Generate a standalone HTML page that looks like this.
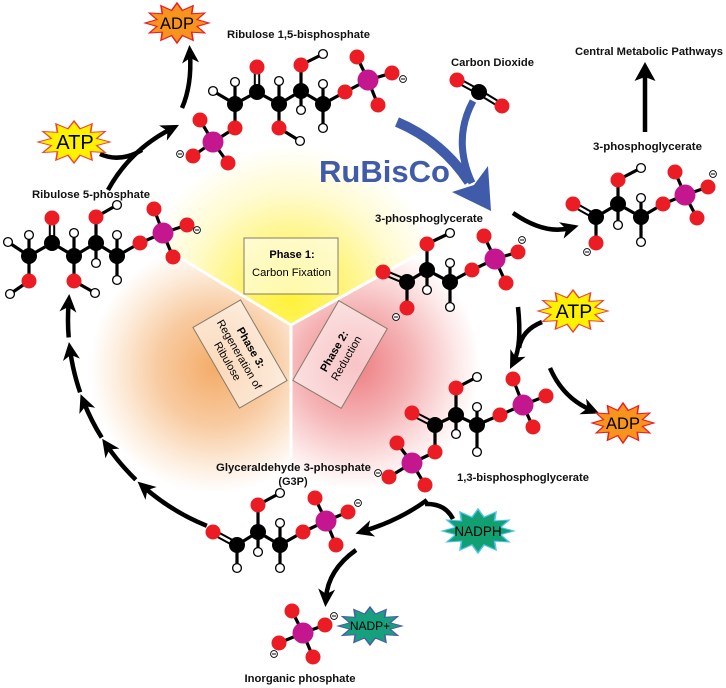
<!DOCTYPE html>
<html><head><meta charset="utf-8"><style>
html,body{margin:0;padding:0;background:#fff;overflow:hidden;width:726px;height:688px;}
svg{display:block;}
text{font-family:"Liberation Sans",Arial,sans-serif;}
.lb{font-weight:bold;font-size:11px;fill:#111;}
</style></head><body>
<svg width="726" height="688" viewBox="0 0 726 688" xmlns="http://www.w3.org/2000/svg" style="overflow:hidden">
<defs>
<radialGradient id="gy" gradientUnits="userSpaceOnUse" cx="291" cy="300" r="155">
<stop offset="0" stop-color="#fff23a"/><stop offset="0.35" stop-color="#fff47a"/><stop offset="0.7" stop-color="#fffbd0"/><stop offset="1" stop-color="#ffffff"/></radialGradient>
<radialGradient id="go" gradientUnits="userSpaceOnUse" cx="215" cy="368" r="125">
<stop offset="0" stop-color="#f4ac68"/><stop offset="0.45" stop-color="#f8caa0"/><stop offset="0.8" stop-color="#fdeedf"/><stop offset="1" stop-color="#ffffff"/></radialGradient>
<radialGradient id="gr" gradientUnits="userSpaceOnUse" cx="355" cy="365" r="125">
<stop offset="0" stop-color="#ee7d82"/><stop offset="0.45" stop-color="#f5b3b5"/><stop offset="0.8" stop-color="#fde6e6"/><stop offset="1" stop-color="#ffffff"/></radialGradient>
<marker id="ah" markerUnits="userSpaceOnUse" markerWidth="30" markerHeight="30" viewBox="-15 -15 30 30" refX="0" refY="0" orient="auto"><path d="M9,0 L-9,-8.5 L-4,0 L-9,8.5 Z" fill="#000"/></marker>
<polygon id="star" points="0,-1 0.168,-0.628 0.5,-0.866 0.46,-0.46 0.866,-0.5 0.628,-0.168 1,0 0.628,0.168 0.866,0.5 0.46,0.46 0.5,0.866 0.168,0.628 0,1 -0.168,0.628 -0.5,0.866 -0.46,0.46 -0.866,0.5 -0.628,0.168 -1,0 -0.628,-0.168 -0.866,-0.5 -0.46,-0.46 -0.5,-0.866 -0.168,-0.628"/>
</defs>

<!-- background sectors -->
<polygon points="291,325 0,148.5 0,0 726,0 726,82.2" fill="url(#gy)"/>
<polygon points="291,325 0,148.5 0,688 291,688" fill="url(#go)"/>
<polygon points="291,325 291,688 726,688 726,82.2" fill="url(#gr)"/>
<g stroke="#fff" stroke-width="3">
<line x1="291" y1="325" x2="1" y2="149"/>
<line x1="291" y1="325" x2="725" y2="83"/>
<line x1="291" y1="325" x2="291" y2="687"/>
</g>

<!-- phase boxes -->
<rect x="244" y="238" width="94" height="56" fill="rgba(255,255,255,0.55)" stroke="#857a68" stroke-width="1"/>
<text x="292" y="258" text-anchor="middle" style="font-weight:bold;font-size:11px">Phase 1:</text>
<text x="291.5" y="276" text-anchor="middle" style="font-size:11px" textLength="79" lengthAdjust="spacingAndGlyphs">Carbon Fixation</text>

<g transform="translate(240,354) rotate(60)">
<rect x="-46.5" y="-27.5" width="93" height="55" fill="rgba(255,255,255,0.55)" stroke="#857a68" stroke-width="1"/>
<text x="0" y="-9" text-anchor="middle" style="font-weight:bold;font-size:11px">Phase 3:</text>
<text x="0" y="4.5" text-anchor="middle" style="font-size:11px">Regeneration of</text>
<text x="0" y="18" text-anchor="middle" style="font-size:11px">Ribulose</text>
</g>
<g transform="translate(340,354.5) rotate(-60)">
<rect x="-46" y="-28" width="92" height="56" fill="rgba(255,255,255,0.55)" stroke="#857a68" stroke-width="1"/>
<text x="0" y="-3" text-anchor="middle" style="font-weight:bold;font-size:11px">Phase 2:</text>
<text x="0" y="11" text-anchor="middle" style="font-size:11px">Reduction</text>
</g>

<!-- blue RuBisCo arrow -->
<g fill="none" stroke="#3f5ba9">
<path d="M397,122 Q442,141 469,182" stroke-width="10"/>
<path d="M473,101 Q452,140 472,183" stroke-width="7"/>
</g>
<polygon points="452,192 491,211 488,166 474,185" fill="#3f5ba9"/>
<text x="319" y="182" style="font-weight:bold;font-size:31px;fill:#3f5ba9" textLength="131" lengthAdjust="spacingAndGlyphs">RuBisCo</text>

<!-- black arrows -->
<g fill="none" stroke="#000" stroke-width="4.5">
<path d="M108,190 Q130,150 171,129" marker-end="url(#ah)"/>
<path d="M100,154 Q120,163 142,150"/>
<path d="M182,108 Q192,85 190,54" marker-end="url(#ah)"/>
<path d="M513,213 Q545,235 570,228" marker-end="url(#ah)"/>
<line x1="645" y1="132" x2="645" y2="76"/>
<path d="M518,307 Q522,345 514,361" marker-end="url(#ah)"/>
<path d="M542,322 Q522,330 519,348"/>
<path d="M550,368 Q563,398 591,410" marker-end="url(#ah)"/>
<path d="M427,500 Q400,520 364,531" marker-end="url(#ah)"/>
<path d="M453,519 Q445,503 425,504"/>
<path d="M356,550 Q328,570 326,598" marker-end="url(#ah)"/>
<path d="M206.8,525.8 A222,222 0 0 1 144.3,487.5" marker-end="url(#ah)"/>
<path d="M135.8,479.7 A222,222 0 0 1 107.3,446.1" marker-end="url(#ah)"/>
<path d="M101.7,437.6 A222,222 0 0 1 83.9,402.5" marker-end="url(#ah)"/>
<path d="M80.1,392.3 A222,222 0 0 1 70.2,350.9" marker-end="url(#ah)"/>
<path d="M68.7,337.4 A222,222 0 0 1 68.6,303.0" marker-end="url(#ah)"/>
</g>
<polygon points="645,62 634.5,81 645,77 655.5,81" fill="#000"/>

<!-- stars -->
<use href="#star" transform="translate(74,142) scale(36,21)" fill="#fff200" stroke="#ef4136" stroke-width="0.045"/>
<use href="#star" transform="translate(177,23) scale(32,20)" fill="#f7941d" stroke="#ed1c24" stroke-width="0.05"/>
<use href="#star" transform="translate(573,311) scale(35,21)" fill="#fff200" stroke="#ef4136" stroke-width="0.045"/>
<use href="#star" transform="translate(623,423) scale(31,20)" fill="#f7941d" stroke="#ed1c24" stroke-width="0.05"/>
<use href="#star" transform="translate(478,531) scale(36,22)" fill="#12a072" stroke="#4fc3ec" stroke-width="0.045"/>
<use href="#star" transform="translate(370,626) scale(32,19)" fill="#16a07e" stroke="#4a5ca8" stroke-width="0.05"/>
<g fill="#000" text-anchor="middle">
<text x="75" y="149" style="font-size:20px">ATP</text>
<text x="177" y="29" style="font-size:16.5px">ADP</text>
<text x="574" y="318" style="font-size:19.5px">ATP</text>
<text x="623" y="429" style="font-size:16.5px">ADP</text>
<text x="478" y="536" style="font-size:13.5px">NADPH</text>
<text x="370" y="630" style="font-size:12px">NADP+</text>
</g>

<!-- labels -->
<text class="lb" x="298.5" y="38" text-anchor="middle" textLength="143" lengthAdjust="spacingAndGlyphs">Ribulose 1,5-bisphosphate</text>
<text class="lb" x="91" y="198" text-anchor="middle" textLength="118" lengthAdjust="spacingAndGlyphs">Ribulose 5-phosphate</text>
<text class="lb" x="492.5" y="66" text-anchor="middle" textLength="83" lengthAdjust="spacingAndGlyphs">Carbon Dioxide</text>
<text class="lb" x="649" y="55" text-anchor="middle" textLength="148" lengthAdjust="spacingAndGlyphs">Central Metabolic Pathways</text>
<text class="lb" x="647.5" y="150" text-anchor="middle" textLength="109" lengthAdjust="spacingAndGlyphs">3-phosphoglycerate</text>
<text class="lb" x="429" y="222" text-anchor="middle" textLength="108" lengthAdjust="spacingAndGlyphs">3-phosphoglycerate</text>
<text class="lb" x="523" y="481" text-anchor="middle" textLength="132" lengthAdjust="spacingAndGlyphs">1,3-bisphosphoglycerate</text>
<text class="lb" x="293.5" y="471" text-anchor="middle" textLength="155" lengthAdjust="spacingAndGlyphs">Glyceraldehyde 3-phosphate</text>
<text class="lb" x="293" y="485" text-anchor="middle">(G3P)</text>
<text class="lb" x="300" y="682" text-anchor="middle" textLength="111" lengthAdjust="spacingAndGlyphs">Inorganic phosphate</text>

<!-- bonds -->
<g stroke="#000" stroke-width="3.2" stroke-linecap="round">
<polyline fill="none" points="235,104 257,92 279,104 301,91 323,104 345,92 368,80"/>
<line x1="368" y1="80" x2="357" y2="57"/><line x1="368" y1="80" x2="392" y2="73"/><line x1="368" y1="80" x2="378" y2="105"/>
<line x1="235" y1="104" x2="213" y2="91"/><line x1="235" y1="104" x2="235" y2="82"/><line x1="235" y1="104" x2="235" y2="128"/>
<line x1="235" y1="128" x2="213" y2="142"/><line x1="213" y1="142" x2="200" y2="120"/><line x1="213" y1="142" x2="193" y2="156"/><line x1="213" y1="142" x2="228" y2="163"/>
<line x1="279" y1="104" x2="279" y2="81"/><line x1="279" y1="104" x2="279" y2="128"/><line x1="279" y1="128" x2="300" y2="141"/>
<line x1="301" y1="91" x2="301" y2="65"/><line x1="301" y1="65" x2="323" y2="54"/><line x1="301" y1="91" x2="301" y2="110"/>
<line x1="323" y1="104" x2="323" y2="84"/><line x1="323" y1="104" x2="323" y2="128"/>
<polyline fill="none" points="29,256 52,243 74,256 96,243 117,256 140,243 163,233"/>
<line x1="163" y1="233" x2="154" y2="209"/><line x1="163" y1="233" x2="187" y2="225"/><line x1="163" y1="233" x2="173" y2="257"/>
<line x1="29" y1="256" x2="8" y2="242"/><line x1="29" y1="256" x2="29" y2="235"/><line x1="29" y1="256" x2="29" y2="281"/><line x1="29" y1="281" x2="10" y2="294"/>
<line x1="74" y1="256" x2="74" y2="233"/><line x1="74" y1="256" x2="74" y2="281"/><line x1="74" y1="281" x2="95" y2="293"/>
<line x1="96" y1="243" x2="96" y2="217"/><line x1="96" y1="217" x2="117" y2="205"/><line x1="96" y1="243" x2="96" y2="263"/>
<line x1="117" y1="256" x2="117" y2="235"/><line x1="117" y1="256" x2="117" y2="280"/>
<polyline fill="none" points="407,282 427,270 450,282 472,270 495,259"/>
<line x1="407" y1="282" x2="407" y2="308"/>
<line x1="427" y1="270" x2="427" y2="244"/><line x1="427" y1="244" x2="450" y2="233"/><line x1="427" y1="270" x2="427" y2="290"/>
<line x1="450" y1="282" x2="450" y2="263"/><line x1="450" y1="282" x2="450" y2="307"/>
<line x1="495" y1="259" x2="484" y2="236"/><line x1="495" y1="259" x2="518" y2="252"/><line x1="495" y1="259" x2="506" y2="283"/>
<polyline fill="none" points="596,217 618,204 641,217 663,204 685,195"/>
<line x1="596" y1="217" x2="596" y2="243"/>
<line x1="618" y1="204" x2="618" y2="180"/><line x1="618" y1="180" x2="641" y2="168"/><line x1="618" y1="204" x2="618" y2="225"/>
<line x1="641" y1="217" x2="641" y2="198"/><line x1="641" y1="217" x2="641" y2="242"/>
<line x1="685" y1="195" x2="675" y2="172"/><line x1="685" y1="195" x2="708" y2="187"/><line x1="685" y1="195" x2="697" y2="218"/>
<polyline fill="none" points="435,425 456,415 477,425 500,415 523,405"/>
<line x1="435" y1="425" x2="435" y2="452"/><line x1="435" y1="452" x2="412" y2="463"/>
<line x1="412" y1="463" x2="397" y2="443"/><line x1="412" y1="463" x2="389" y2="477"/><line x1="412" y1="463" x2="425" y2="485"/>
<line x1="456" y1="415" x2="456" y2="388"/><line x1="456" y1="388" x2="477" y2="377"/><line x1="456" y1="415" x2="456" y2="434"/>
<line x1="477" y1="425" x2="477" y2="407"/><line x1="477" y1="425" x2="477" y2="452"/>
<line x1="523" y1="405" x2="513" y2="379"/><line x1="523" y1="405" x2="546" y2="396"/><line x1="523" y1="405" x2="533" y2="427"/>
<polyline fill="none" points="237,545 258,532 280,545 303,532 326,521"/>
<line x1="237" y1="545" x2="237" y2="568"/>
<line x1="258" y1="532" x2="258" y2="505"/><line x1="258" y1="505" x2="280" y2="493"/><line x1="258" y1="532" x2="258" y2="552"/>
<line x1="280" y1="545" x2="280" y2="523"/><line x1="280" y1="545" x2="280" y2="568"/>
<line x1="326" y1="521" x2="315" y2="498"/><line x1="326" y1="521" x2="348" y2="512"/><line x1="326" y1="521" x2="336" y2="545"/>
<line x1="303" y1="633" x2="292" y2="611"/><line x1="303" y1="633" x2="325" y2="625"/><line x1="303" y1="633" x2="279" y2="643"/><line x1="303" y1="633" x2="313" y2="657"/>
</g>
<g stroke="#000" stroke-width="2">
<line x1="254.8" y1="92" x2="254.8" y2="67"/><line x1="259.2" y1="92" x2="259.2" y2="67"/>
<line x1="49.8" y1="243" x2="49.8" y2="218"/><line x1="54.2" y1="243" x2="54.2" y2="218"/>
<line x1="382.15" y1="274.03" x2="406.15" y2="284.03"/><line x1="383.85" y1="269.97" x2="407.85" y2="279.97"/>
<line x1="571.9" y1="205.9" x2="594.9" y2="218.9"/><line x1="574.1" y1="202.1" x2="597.1" y2="215.1"/>
<line x1="411" y1="415" x2="434" y2="427"/><line x1="413" y1="411" x2="436" y2="423"/>
<line x1="212" y1="534" x2="236" y2="547"/><line x1="214" y1="530" x2="238" y2="543"/>
<line x1="456" y1="82" x2="478" y2="94"/><line x1="458" y1="78" x2="480" y2="90"/>
<line x1="478" y1="94" x2="501" y2="108"/><line x1="480" y1="90" x2="503" y2="104"/>
</g>

<g fill="#ec1c24">
<circle cx="257" cy="67" r="7.5"/><circle cx="235" cy="128" r="7.5"/><circle cx="279" cy="128" r="7.5"/><circle cx="301" cy="65" r="7.5"/><circle cx="345" cy="92" r="7.5"/>
<circle cx="357" cy="57" r="7.5"/><circle cx="392" cy="73" r="7.5"/><circle cx="378" cy="105" r="7.5"/>
<circle cx="200" cy="120" r="7.5"/><circle cx="193" cy="156" r="7.5"/><circle cx="228" cy="163" r="7.5"/>
<circle cx="52" cy="218" r="7.5"/><circle cx="29" cy="281" r="7.5"/><circle cx="74" cy="281" r="7.5"/><circle cx="96" cy="217" r="7.5"/><circle cx="140" cy="243" r="7.5"/>
<circle cx="154" cy="209" r="7.5"/><circle cx="187" cy="225" r="7.5"/><circle cx="173" cy="257" r="7.5"/>
<circle cx="457" cy="80" r="7.5"/><circle cx="502" cy="106" r="7.5"/>
<circle cx="383" cy="272" r="7.5"/><circle cx="407" cy="308" r="7.5"/><circle cx="427" cy="244" r="7.5"/><circle cx="472" cy="270" r="7.5"/>
<circle cx="484" cy="236" r="7.5"/><circle cx="518" cy="252" r="7.5"/><circle cx="506" cy="283" r="7.5"/>
<circle cx="573" cy="204" r="7.5"/><circle cx="596" cy="243" r="7.5"/><circle cx="618" cy="180" r="7.5"/><circle cx="663" cy="204" r="7.5"/>
<circle cx="675" cy="172" r="7.5"/><circle cx="708" cy="187" r="7.5"/><circle cx="697" cy="218" r="7.5"/>
<circle cx="412" cy="413" r="7.5"/><circle cx="435" cy="452" r="7.5"/><circle cx="456" cy="388" r="7.5"/><circle cx="500" cy="415" r="7.5"/>
<circle cx="397" cy="443" r="7.5"/><circle cx="389" cy="477" r="7.5"/><circle cx="425" cy="485" r="7.5"/>
<circle cx="513" cy="379" r="7.5"/><circle cx="546" cy="396" r="7.5"/><circle cx="533" cy="427" r="7.5"/>
<circle cx="213" cy="532" r="7.5"/><circle cx="258" cy="505" r="7.5"/><circle cx="303" cy="532" r="7.5"/>
<circle cx="315" cy="498" r="7.5"/><circle cx="348" cy="512" r="7.5"/><circle cx="336" cy="545" r="7.5"/>
<circle cx="292" cy="611" r="7.5"/><circle cx="325" cy="625" r="7.5"/><circle cx="279" cy="643" r="7.5"/><circle cx="313" cy="657" r="7.5"/>
</g>
<g fill="#000">
<circle cx="235" cy="104" r="8"/><circle cx="257" cy="92" r="8"/><circle cx="279" cy="104" r="8"/><circle cx="301" cy="91" r="8"/><circle cx="323" cy="104" r="8"/>
<circle cx="29" cy="256" r="8"/><circle cx="52" cy="243" r="8"/><circle cx="74" cy="256" r="8"/><circle cx="96" cy="243" r="8"/><circle cx="117" cy="256" r="8"/>
<circle cx="479" cy="92" r="8"/>
<circle cx="407" cy="282" r="8"/><circle cx="427" cy="270" r="8"/><circle cx="450" cy="282" r="8"/>
<circle cx="596" cy="217" r="8"/><circle cx="618" cy="204" r="8"/><circle cx="641" cy="217" r="8"/>
<circle cx="435" cy="425" r="8"/><circle cx="456" cy="415" r="8"/><circle cx="477" cy="425" r="8"/>
<circle cx="237" cy="545" r="8"/><circle cx="258" cy="532" r="8"/><circle cx="280" cy="545" r="8"/>
</g>
<g fill="#c4168f">
<circle cx="368" cy="80" r="10.5"/><circle cx="213" cy="142" r="10.5"/><circle cx="163" cy="233" r="10.5"/>
<circle cx="495" cy="259" r="10.5"/><circle cx="685" cy="195" r="10.5"/><circle cx="412" cy="463" r="10.5"/>
<circle cx="523" cy="405" r="10.5"/><circle cx="326" cy="521" r="10.5"/><circle cx="303" cy="633" r="10.5"/>
</g>
<g fill="#fff" stroke="#000" stroke-width="1.3">
<circle cx="213" cy="91" r="4.4"/><circle cx="235" cy="82" r="4.4"/><circle cx="279" cy="81" r="4.4"/><circle cx="300" cy="141" r="4.4"/>
<circle cx="323" cy="54" r="4.4"/><circle cx="301" cy="110" r="4.4"/><circle cx="323" cy="84" r="4.4"/><circle cx="323" cy="128" r="4.4"/>
<circle cx="8" cy="242" r="4.4"/><circle cx="29" cy="235" r="4.4"/><circle cx="10" cy="294" r="4.4"/><circle cx="74" cy="233" r="4.4"/><circle cx="95" cy="293" r="4.4"/>
<circle cx="117" cy="205" r="4.4"/><circle cx="96" cy="263" r="4.4"/><circle cx="117" cy="235" r="4.4"/><circle cx="117" cy="280" r="4.4"/>
<circle cx="450" cy="233" r="4.4"/><circle cx="427" cy="290" r="4.4"/><circle cx="450" cy="263" r="4.4"/><circle cx="450" cy="307" r="4.4"/>
<circle cx="641" cy="168" r="4.4"/><circle cx="618" cy="225" r="4.4"/><circle cx="641" cy="198" r="4.4"/><circle cx="641" cy="242" r="4.4"/>
<circle cx="477" cy="377" r="4.4"/><circle cx="456" cy="434" r="4.4"/><circle cx="477" cy="407" r="4.4"/><circle cx="477" cy="452" r="4.4"/>
<circle cx="237" cy="568" r="4.4"/><circle cx="280" cy="493" r="4.4"/><circle cx="258" cy="552" r="4.4"/><circle cx="280" cy="523" r="4.4"/><circle cx="280" cy="568" r="4.4"/>
</g>
<g fill="#fff" stroke="#000" stroke-width="0.9">
<circle cx="403" cy="79" r="3.4"/><circle cx="180" cy="154" r="3.4"/><circle cx="197" cy="230" r="3.4"/>
<circle cx="396" cy="317" r="3.4"/><circle cx="522" cy="240" r="3.4"/><circle cx="587" cy="252" r="3.4"/><circle cx="713" cy="174" r="3.4"/>
<circle cx="378" cy="473" r="3.4"/><circle cx="358" cy="503" r="3.4"/><circle cx="334" cy="616" r="3.4"/><circle cx="274" cy="654" r="3.4"/>
</g>
<g stroke="#000" stroke-width="1">
<line x1="401" y1="79" x2="405" y2="79"/><line x1="178" y1="154" x2="182" y2="154"/><line x1="195" y1="230" x2="199" y2="230"/>
<line x1="394" y1="317" x2="398" y2="317"/><line x1="520" y1="240" x2="524" y2="240"/><line x1="585" y1="252" x2="589" y2="252"/><line x1="711" y1="174" x2="715" y2="174"/>
<line x1="376" y1="473" x2="380" y2="473"/><line x1="356" y1="503" x2="360" y2="503"/><line x1="332" y1="616" x2="336" y2="616"/><line x1="272" y1="654" x2="276" y2="654"/>
</g>
</svg>
</body></html>
